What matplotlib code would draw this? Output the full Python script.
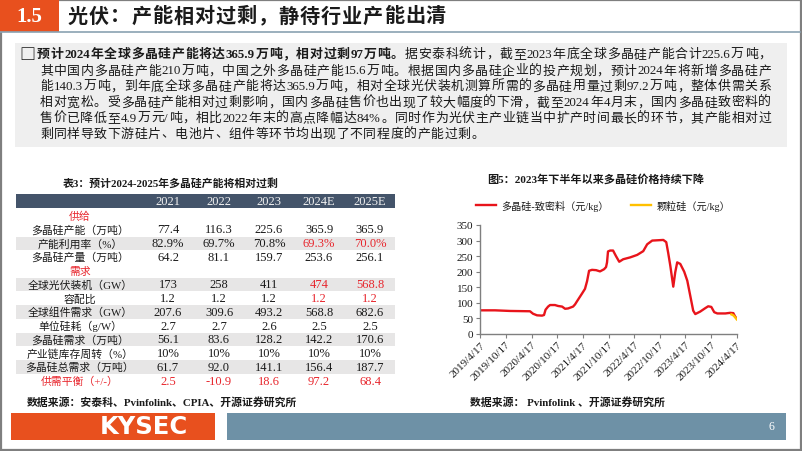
import re
import matplotlib
matplotlib.use('Agg')
import matplotlib.pyplot as plt
from matplotlib.patches import Rectangle
import pandas as pd

plt.rcParams['font.family'] = ['Liberation Serif', 'Noto Sans CJK SC', 'DejaVu Sans']
plt.rcParams['axes.unicode_minus'] = False

# ---------- data ----------
section_no = '1.5'
page_title = '光伏：产能相对过剩，静待行业产能出清'

body_bold = '预计2024年全球多晶硅产能将达365.9万吨，相对过剩97万吨。'
body_lines = [
    '据安泰科统计，截至2023年底全球多晶硅产能合计225.6万吨，',
    '其中国内多晶硅产能210万吨，中国之外多晶硅产能15.6万吨。根据国内多晶硅企业的投产规划，预计2024年将新增多晶硅产',
    '能140.3万吨，到年底全球多晶硅产能将达365.9万吨，相对全球光伏装机测算所需的多晶硅用量过剩97.2万吨，整体供需关系',
    '相对宽松。受多晶硅产能相对过剩影响，国内多晶硅售价也出现了较大幅度的下滑，截至2024年4月末，国内多晶硅致密料的',
    '售价已降低至4.9万元/吨，相比2022年末的高点降幅达84%。同时作为光伏主产业链当中扩产时间最长的环节，其产能相对过',
    '剩同样导致下游硅片、电池片、组件等环节均出现了不同程度的产能过剩。',
]

table_title = '表3：预计2024-2025年多晶硅产能将相对过剩'
years = ['2021', '2022', '2023', '2024E', '2025E']
capacity = [77.4, 116.3, 225.6, 365.9, 365.9]
utilization = [82.9, 69.7, 70.8, 69.3, 70.0]
output = [64.2, 81.1, 159.7, 253.6, 256.1]
installs = [173, 258, 411, 474, 568.8]
dc_ratio = [1.2, 1.2, 1.2, 1.2, 1.2]
module_demand = [207.6, 309.6, 493.2, 568.8, 682.6]
si_per_w = [2.7, 2.7, 2.6, 2.5, 2.5]
poly_demand = [56.1, 83.6, 128.2, 142.2, 170.6]
inventory = [10, 10, 10, 10, 10]
total_demand = [61.7, 92.0, 141.1, 156.4, 187.7]
balance = [2.5, -10.9, 18.6, 97.2, 68.4]
table_source = '数据来源：安泰科、Pvinfolink、CPIA、开源证券研究所'

chart_title = '图5：2023年下半年以来多晶硅价格持续下降'
dense_label = '多晶硅-致密料（元/kg）'
gran_label = '颗粒硅（元/kg）'
dense_dates = ['2019-04-24', '2019-07-31', '2019-11-15', '2020-04-05', '2020-04-27',
               '2020-05-25', '2020-06-30', '2020-07-14', '2020-07-25', '2020-08-12',
               '2020-08-26', '2020-09-30', '2020-10-22', '2020-11-20', '2020-12-11',
               '2021-01-01', '2021-02-06', '2021-02-20', '2021-03-06', '2021-04-11',
               '2021-05-02', '2021-05-17', '2021-05-31', '2021-06-21', '2021-07-20',
               '2021-08-17', '2021-09-15', '2021-09-29', '2021-10-06', '2021-10-13',
               '2021-10-28', '2021-11-18', '2021-12-09', '2022-01-01', '2022-01-29',
               '2022-03-20', '2022-05-09', '2022-06-21', '2022-07-19', '2022-08-24',
               '2022-11-11', '2022-12-02', '2022-12-16', '2022-12-31', '2023-01-21',
               '2023-02-04', '2023-02-18', '2023-03-12', '2023-04-09', '2023-05-01',
               '2023-05-22', '2023-06-12', '2023-06-27', '2023-08-01', '2023-09-06',
               '2023-09-27', '2023-10-19', '2023-11-09', '2023-12-01', '2024-01-27',
               '2024-03-02', '2024-03-24', '2024-04-07', '2024-04-14']
dense_price = [76, 76, 74, 73, 65,
               60, 59, 61, 78, 88,
               93, 93, 90, 88, 81,
               82, 88, 95, 105, 130,
               145, 170, 203, 206, 205,
               201, 208, 215, 230, 265,
               268, 268, 250, 232, 240,
               246, 254, 266, 288, 300,
               302, 295, 260, 219, 152,
               198, 230, 225, 200, 171,
               123, 75, 64, 72, 83,
               89, 87, 70, 66, 66,
               68, 67, 55, 52]
gran_dates = ['2024-03-10', '2024-03-24', '2024-04-07', '2024-04-17']
gran_price = [63, 60, 53, 47]
tick_dates = ['2019-04-17', '2019-10-17', '2020-04-17', '2020-10-17', '2021-04-17',
              '2021-10-17', '2022-04-17', '2022-10-17', '2023-04-17', '2023-10-17',
              '2024-04-17']
tick_labels = ['2019/4/17', '2019/10/17', '2020/4/17', '2020/10/17', '2021/4/17',
               '2021/10/17', '2022/4/17', '2022/10/17', '2023/4/17', '2023/10/17',
               '2024/4/17']
chart_source = '数据来源： Pvinfolink 、开源证券研究所'
page_no = '6'

# ---------- canvas in pixel units ----------
W, H = 802, 452
fig = plt.figure(figsize=(W / 100, H / 100), dpi=100)
fig.patch.set_facecolor('white')
bg = fig.add_axes([0, 0, 1, 1])
bg.set_xlim(0, W)
bg.set_ylim(H, 0)
bg.axis('off')
renderer = fig.canvas.get_renderer()

RED = '#E8262D'
ORANGE = '#E8501E'
TXT = '#1A1A1A'


def tokens(s):
    return re.findall(r'[A-Za-z0-9.%/\-+]+|.', s)


def draw_line(segs, x0, x1, y, size, color=TXT, gap=None):
    # lay out tokens one by one so the line can be justified like the original
    arts, widths = [], []
    for s, w in segs:
        for t in tokens(s):
            a = bg.text(0, y, t, fontsize=size, fontweight=w, color=color,
                        va='center', ha='left')
            arts.append(a)
            widths.append(a.get_window_extent(renderer).width)
    if gap is None:
        gap = (x1 - x0 - sum(widths)) / max(len(arts) - 1, 1)
    x = x0
    for a, wd in zip(arts, widths):
        a.set_x(x)
        x += wd + gap
    return gap


# outer frame
bg.add_patch(Rectangle((0.8, 0.8), W - 1.6, H - 1.6, fill=False, ec='#7F7F7F', lw=1.6))

# header
bg.add_patch(Rectangle((0, 0), 59, 33, color=ORANGE, lw=0))
bg.plot([0, 800], [33, 33], color='#8AA2B2', lw=1.2)
bg.text(29.5, 17, section_no, fontsize=15, fontweight='bold', color='white',
        ha='center', va='center', family='Liberation Serif')
draw_line([(page_title, 'bold')], 68, 446, 17.5, 14.5)

# text box
bg.add_patch(Rectangle((15, 44), 772, 104, color='#EFEFEF', lw=0))
bg.text(27.5, 55, '□', fontsize=11.5, fontweight='bold', color=TXT,
        ha='center', va='center', family=['Noto Sans CJK SC', 'DejaVu Sans'])
line_y = [55, 71.5, 87.3, 103.3, 119, 134.6]
draw_line([(body_bold, 'bold'), (body_lines[0], 'normal')], 37, 771, line_y[0], 9.3)
g = 0
for ly, txt in zip(line_y[1:-1], body_lines[1:-1]):
    g = draw_line([(txt, 'normal')], 40, 771, ly, 9.3)
draw_line([(body_lines[-1], 'normal')], 40, 771, line_y[-1], 9.3, gap=g)

# ---------- table ----------
bg.text(63, 183.5, table_title, fontsize=7.8, fontweight='bold', color=TXT,
        ha='left', va='center')
col_x = [168, 219, 269, 319, 370]
bg.add_patch(Rectangle((16, 195), 379, 14, color='#44546A', lw=0))
for cx, yr in zip(col_x, years):
    bg.text(cx, 202.5, yr, fontsize=9, color='#F2F2F2', ha='center', va='center',
            family='Liberation Serif')

rows = [
    ('供给', None, None, 0),
    ('多晶硅产能（万吨）', capacity, '{:.1f}', 0),
    ('产能利用率（%）', utilization, '{:.1f}%', 3),
    ('多晶硅产量（万吨）', output, '{:.1f}', 0),
    ('需求', None, None, 0),
    ('全球光伏装机（GW）', installs, '{:g}', 3),
    ('容配比', dc_ratio, '{:.1f}', 3),
    ('全球组件需求（GW）', module_demand, '{:.1f}', 0),
    ('单位硅耗（g/W）', si_per_w, '{:.1f}', 0),
    ('多晶硅需求（万吨）', poly_demand, '{:.1f}', 0),
    ('产业链库存周转（%）', inventory, '{:d}%', 0),
    ('多晶硅总需求（万吨）', total_demand, '{:.1f}', 0),
    ('供需平衡（+/-）', balance, '{:.1f}', -1),
]
shaded = {2, 5, 7, 9, 11}
row_h = 13.75
for i, (label, vals, fmt, red_from) in enumerate(rows):
    y = 216.7 + i * row_h
    if i in shaded:
        bg.add_patch(Rectangle((16, y - 6.7), 379, 13.4, color='#E7E6E6', lw=0))
    lab_col = RED if (vals is None or red_from == -1) else TXT
    bg.text(80, y, label, fontsize=7.8, color=lab_col, ha='center', va='center')
    if vals is None:
        continue
    for j, (cx, v) in enumerate(zip(col_x, vals)):
        red = red_from == -1 or (red_from > 0 and j >= red_from)
        bg.text(cx, y, fmt.format(v), fontsize=9, color=RED if red else TXT,
                ha='center', va='center', family='Liberation Serif')

bg.text(27, 402, table_source, fontsize=7.8, fontweight='bold', color=TXT,
        ha='left', va='center')

# ---------- chart ----------
bg.text(487, 179, chart_title, fontsize=8, fontweight='bold', color=TXT,
        ha='left', va='center')

ax = fig.add_axes([480.3 / W, 1 - 335 / H, 256.4 / W, 109 / H])
ax.patch.set_alpha(0)
l1, = ax.plot(pd.to_datetime(dense_dates), dense_price, color='#E8141B', lw=1.7,
              solid_joinstyle='round')
l2, = ax.plot(pd.to_datetime(gran_dates), gran_price, color='#FFC000', lw=1.7,
              solid_joinstyle='round')
ax.set_xlim(pd.Timestamp(tick_dates[0]), pd.Timestamp(tick_dates[-1]))
ax.set_ylim(0, 350)
ax.set_yticks(range(0, 351, 50))
ax.set_xticks(pd.to_datetime(tick_dates))
ax.set_xticklabels(tick_labels, rotation=45, ha='right', rotation_mode='anchor')
for s in ['top', 'right']:
    ax.spines[s].set_visible(False)
for s in ['left', 'bottom']:
    ax.spines[s].set_color('#7F7F7F')
    ax.spines[s].set_linewidth(1)
ax.tick_params(axis='both', length=3, width=0.8, color='#7F7F7F', labelsize=8,
               labelcolor=TXT, pad=2)
ax.tick_params(axis='x', pad=1)
for t in ax.get_xticklabels() + ax.get_yticklabels():
    t.set_family('Liberation Serif')

fig.legend([l1, l2], [dense_label, gran_label], loc='center', ncol=2,
           bbox_to_anchor=(603 / W, 1 - 206 / H), frameon=False, fontsize=7.3,
           handlelength=2.0, handletextpad=0.5, columnspacing=2.2,
           labelcolor=TXT)

bg.text(470, 402, chart_source, fontsize=7.8, fontweight='bold', color=TXT,
        ha='left', va='center')

# ---------- footer ----------
bg.add_patch(Rectangle((11, 414), 204, 27, color=ORANGE, lw=0))
bg.text(144, 427.5, 'KYSEC', fontsize=17.5, fontweight='bold', color='white',
        ha='center', va='center', family='DejaVu Sans')
bg.add_patch(Rectangle((227, 414), 559, 27, color='#6E91A6', lw=0))
bg.text(771, 427.5, page_no, fontsize=8.5, color='white', ha='center', va='center',
        family='Liberation Serif')

fig.savefig('out.png', dpi=100)
